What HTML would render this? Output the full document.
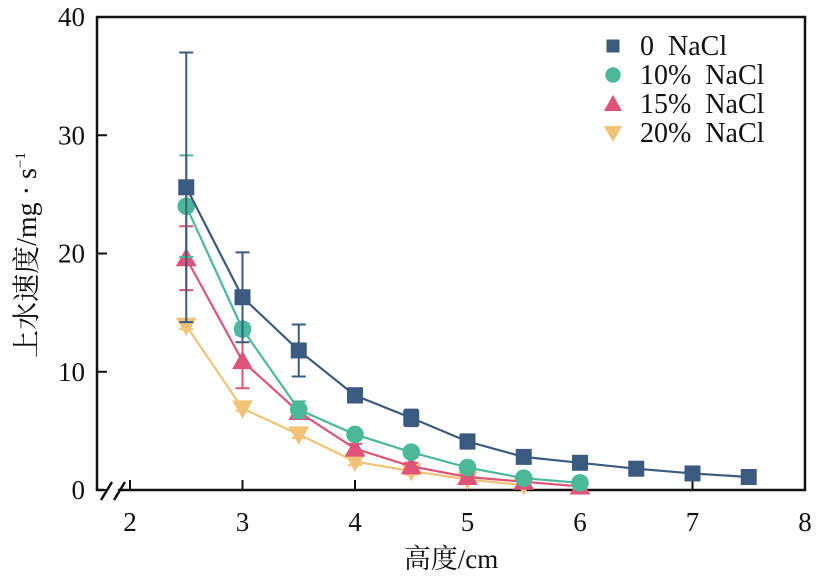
<!DOCTYPE html>
<html><head><meta charset="utf-8"><style>
body{margin:0;background:#fff}
svg{display:block;font-family:"Liberation Serif","Noto Serif CJK SC",serif}
</style></head><body>
<svg id="chart" width="818" height="577" viewBox="0 0 818 577"></svg>
<script>
const xs0=[2.5,3,3.5,4,4.5,5,5.5,6,6.5,7,7.5];
const v0=[25.6,16.3,11.8,8.0,6.1,4.1,2.8,2.3,1.8,1.4,1.1];
const e0=[11.4,3.8,2.2,0.6,0.7,0.6,0.5,0.4,0.3,0.3,0.3];
const xs10=[2.5,3,3.5,4,4.5,5,5.5,6];
const v10=[24.0,13.6,6.8,4.7,3.2,1.9,1.0,0.6];
const e10=[4.3,0.5,0.7,0.3,0.2,0.2,0.1,0.1];
const xs15=[2.5,3,3.5,4,4.5,5,5.5,6];
const v15=[19.6,10.9,6.6,3.5,2.0,1.1,0.7,0.3];
const e15=[2.7,2.3,0.5,0.4,0.3,0.2,0.2,0.1];
const xs20=[2.5,3,3.5,4,4.5,5,5.5];
const v20=[13.9,6.9,4.7,2.4,1.6,0.9,0.4];
const e20=[0.3,0.2,0.3,0.3,0.3,0.2,0.2];
const xTicks=[2,3,4,5,6,7,8];
const yTicks=[0,10,20,30,40];
const seriesNames=["0  NaCl","10%  NaCl","15%  NaCl","20%  NaCl"];

const NS="http://www.w3.org/2000/svg";
const svg=document.getElementById('chart');
const L=97,R=805,T=17,B=490;
const X=v=>130+(v-2)*112.5;
const Y=v=>B-v*(B-T)/40;
function mk(tag,attrs,parent){const e=document.createElementNS(NS,tag);for(const k in attrs)e.setAttribute(k,attrs[k]);(parent||svg).appendChild(e);return e;}

const frame=mk('path',{d:`M${L},${T}H${R}V${B}H${L}Z`,fill:'none',stroke:'#111','stroke-width':2.5});


const wh=mk('rect',{x:104,y:486,width:14,height:8,fill:'#fff'});


const brk=mk('path',{d:'M101,500 L112,482 M114,500 L125,482',stroke:'#111','stroke-width':2.5,fill:'none'});



xTicks.forEach(t=>{
  const ln=mk('line',{x1:X(t),x2:X(t),y1:B,y2:B-10,stroke:'#111','stroke-width':2});
  
  
  const tx=mk('text',{x:X(t),y:531,'text-anchor':'middle','font-size':27,fill:'#111'});
  tx.textContent=t;
  
  
});
yTicks.forEach(t=>{
  const ln=mk('line',{x1:L,x2:L+10,y1:Y(t),y2:Y(t),stroke:'#111','stroke-width':2});
  
  
  const tx=mk('text',{x:L-12,y:Y(t)+9,'text-anchor':'end','font-size':27,fill:'#111'});
  tx.textContent=t;
  
  
});
const xt=mk('text',{x:451,y:568,'text-anchor':'middle','font-size':27,fill:'#111'});
xt.textContent='高度/cm';


const yt=mk('text',{x:0,y:0,'text-anchor':'middle','font-size':28,fill:'#111',transform:'translate(36,255) rotate(-90)'});
yt.innerHTML='上水速度/mg · s<tspan font-size="15" dy="-11">−1</tspan>';



function marker(kind,cx,cy,color,s,g){
  let e;
  if(kind==='sq')e=mk('rect',{x:cx-s,y:cy-s,width:2*s,height:2*s,fill:color},g);
  else if(kind==='ci')e=mk('circle',{cx:cx,cy:cy,r:s*1.1,fill:color},g);
  else if(kind==='up')e=mk('path',{d:`M${cx},${cy-s*1.3}L${cx+s*1.3},${cy+s}L${cx-s*1.3},${cy+s}Z`,fill:color},g);
  else e=mk('path',{d:`M${cx},${cy+s*1.3}L${cx+s*1.3},${cy-s}L${cx-s*1.3},${cy-s}Z`,fill:color},g);
  return e;
}
const series=[
 {xs:xs0,v:v0,e:e0,c:'#3b5a80',k:'sq',n:'series-0-nacl'},
 {xs:xs10,v:v10,e:e10,c:'#4cb89a',k:'ci',n:'series-10-nacl'},
 {xs:xs15,v:v15,e:e15,c:'#e05378',k:'up',n:'series-15-nacl'},
 {xs:xs20,v:v20,e:e20,c:'#f2c276',k:'dn',n:'series-20-nacl'}];
series.slice().reverse().forEach(s=>{
  const g=mk('g',{});
  
  
  const pl=mk('polyline',{points:s.xs.map((x,i)=>X(x)+','+Y(s.v[i])).join(' '),fill:'none',stroke:s.c,'stroke-width':2.2},g);
  
  
  s.xs.forEach((x,i)=>{
    const cx=X(x),y1=Y(s.v[i]+s.e[i]),y2=Y(s.v[i]-s.e[i]);
    const eb=mk('path',{d:`M${cx},${y1}V${y2}M${cx-7},${y1}H${cx+7}M${cx-7},${y2}H${cx+7}`,stroke:s.c,'stroke-width':2,fill:'none'},g);
    
    
  });
  s.xs.forEach((x,i)=>{
    const m=marker(s.k,X(x),Y(s.v[i]),s.c,8,g);
    
    
  });
});
series.forEach((s,i)=>{
  const g=mk('g',{});
  
  
  const y=46+i*29;
  marker(s.k,613,y,s.c,i===0?6.5:7,g);
  const t=mk('text',{x:640,y:y+9,'font-size':28,fill:'#111'},g);
  t.textContent=seriesNames[i];
  t.style.whiteSpace='pre';
});
</script>
</body></html>
